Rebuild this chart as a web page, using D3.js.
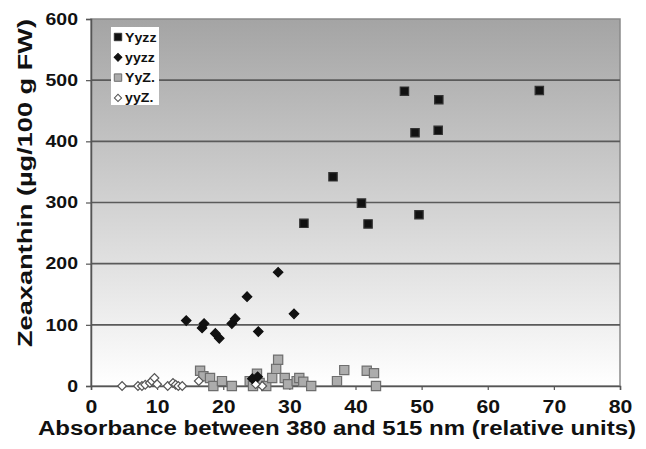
<!DOCTYPE html>
<html>
<head>
<meta charset="utf-8">
<script src="https://cdn.jsdelivr.net/npm/d3@7"></script>
<style>
  body { margin: 0; background: #fff; }
  text { font-family: "Liberation Sans", Arial, sans-serif; font-weight: bold; fill: #111; }
</style>
</head>
<body>
<div id="chart"></div>
<script>
//data
const yyzzBigX = [32.2, 36.6, 40.9, 41.9, 47.4, 49.0, 49.6, 52.5, 52.6, 67.8];
const yyzzBigY = [266, 342, 299, 265, 482, 414, 280, 418, 468, 483];

const yyzzX = [14.4, 16.8, 17.1, 18.8, 19.4, 21.3, 21.8, 23.6, 25.3, 28.3, 30.7, 24.4, 25.2];
const yyzzY = [107, 95, 102, 86, 78, 102, 110, 146, 89, 186, 118, 12, 15];

const yyZX = [16.5, 17, 18, 18.5, 19.8, 21.3, 24, 24.5, 25.1, 25.5, 26.5, 27.4, 28, 28.3, 29.3, 29.8, 31.1, 31.5, 32.1, 33.3, 37.2, 38.3, 41.7, 42.8, 43.1];
const yyZY = [25, 16, 13, 0, 8, 0, 8, 0, 20, 5, 0, 13, 28, 43, 13, 3, 8, 13, 7, 0, 8, 26, 25, 21, 0];

const yyZsmallX = [4.7, 7.1, 7.7, 8.2, 8.9, 9.2, 9.6, 10.0, 11.6, 12.4, 12.8, 13.2, 13.8, 16.3, 25.9, 24.9];
const yyZsmallY = [0, 0, 0, 2, 5, 8, 13, 3, 0, 5, 2, 0, 0, 8, 0, 3];

const seriesNames = ["Yyzz", "yyzz", "YyZ.", "yyZ."];
const xTicks = [0, 10, 20, 30, 40, 50, 60, 70, 80];
const yTicks = [0, 100, 200, 300, 400, 500, 600];

const w = 646;
const h = 449;
const m = { left: 91, right: 26, top: 19, bottom: 63 };

const svg = d3.select("#chart").append("svg")
      .attr("width", w)
      .attr("height", h);

const x = d3.scaleLinear().domain([0, 80]).range([m.left, w - m.right]);
const y = d3.scaleLinear().domain([0, 600]).range([h - m.bottom, m.top]);

//background gradient
const grad = svg.append("defs").append("linearGradient")
      .attr("id", "bg")
      .attr("x1", 0).attr("y1", 0).attr("x2", 0).attr("y2", 1);
grad.append("stop").attr("offset", "0%").attr("stop-color", "#a4a4a4");
grad.append("stop").attr("offset", "100%").attr("stop-color", "#ffffff");

svg.append("rect")
      .attr("x", x(0))
      .attr("y", y(600))
      .attr("width", x(80) - x(0))
      .attr("height", y(0) - y(600))
      .attr("fill", "url(#bg)")
      .attr("stroke", "#8a8a8a")
      .attr("stroke-width", 1.5);

//gridlines
svg.selectAll(".grid")
      .data(yTicks.filter(d => d > 0 && d < 600))
      .enter()
      .append("line")
      .attr("x1", x(0))
      .attr("x2", x(80))
      .attr("y1", d => y(d))
      .attr("y2", d => y(d))
      .style("stroke", "#5a5a5a")
      .style("stroke-width", 1.6);

//axes
const xAxis = svg.append("g")
      .attr("transform", `translate(0,${y(0)})`)
      .call(d3.axisBottom(x).tickValues(xTicks).tickSize(4).tickPadding(10));
const yAxis = svg.append("g")
      .attr("transform", `translate(${x(0)},0)`)
      .call(d3.axisLeft(y).tickValues(yTicks).tickSize(5).tickPadding(8));

[xAxis, yAxis].forEach(a => {
      a.selectAll(".domain").style("stroke", "#555").style("stroke-width", 1.5);
      a.selectAll(".tick line").style("stroke", "#555").style("stroke-width", 1.2);
      a.selectAll("text").style("font-family", null).attr("fill", "#111");
});
xAxis.selectAll("text").style("font-size", "18px");
yAxis.selectAll("text").style("font-size", "16.5px");

//markers, diamonds are squares turned 45 degrees
const sq = d3.symbol().type(d3.symbolSquare);

function drawSeries(xs, ys, size, rot, fill, stroke) {
      svg.append("g").selectAll("path")
            .data(xs.map((d, i) => [d, ys[i]]))
            .enter()
            .append("path")
            .attr("d", sq.size(size)())
            .attr("transform", d => `translate(${x(d[0])},${y(d[1])}) rotate(${rot})`)
            .attr("fill", fill)
            .attr("stroke", stroke)
            .attr("stroke-width", 1.2);
}

drawSeries(yyZX, yyZY, 85, 0, "#acacac", "#6e6e6e");
drawSeries(yyZsmallX, yyZsmallY, 38, 45, "#ffffff", "#555");
drawSeries(yyzzX, yyzzY, 45, 45, "#111", "#111");
drawSeries(yyzzBigX, yyzzBigY, 70, 0, "#111", "#333");

//legend
const legend = svg.append("g");
legend.append("rect")
      .attr("x", 111).attr("y", 27)
      .attr("width", 48).attr("height", 78)
      .attr("fill", "#fff");

const legendStyle = [
      { size: 55, rot: 0, fill: "#111", stroke: "#333" },
      { size: 30, rot: 45, fill: "#111", stroke: "#111" },
      { size: 55, rot: 0, fill: "#acacac", stroke: "#6e6e6e" },
      { size: 26, rot: 45, fill: "#fff", stroke: "#555" }
];

seriesNames.forEach((name, i) => {
      const ly = 37 + i * 20.3;
      const s = legendStyle[i];
      legend.append("path")
            .attr("d", sq.size(s.size)())
            .attr("transform", `translate(118,${ly}) rotate(${s.rot})`)
            .attr("fill", s.fill)
            .attr("stroke", s.stroke)
            .attr("stroke-width", 1);
      legend.append("text")
            .attr("class", "legtext")
            .attr("x", 125)
            .attr("y", ly + 4.5)
            .style("font-size", "12px")
            .text(name);
});

//axis titles
svg.append("text")
      .attr("x", 337)
      .attr("y", 435)
      .attr("text-anchor", "middle")
      .style("font-size", "20px")
      .attr("textLength", 598)
      .attr("lengthAdjust", "spacingAndGlyphs")
      .text("Absorbance between 380 and 515 nm (relative units)");

svg.append("text")
      .attr("transform", "translate(32,183) rotate(-90)")
      .attr("text-anchor", "middle")
      .style("font-size", "21px")
      .attr("textLength", 328)
      .attr("lengthAdjust", "spacingAndGlyphs")
      .text("Zeaxanthin (µg/100 g FW)");

//the original lettering is wider than Arial, stretch it a bit
svg.selectAll(".tick text, .legtext").each(function () {
      const len = this.getComputedTextLength();
      d3.select(this)
            .attr("textLength", len * 1.18)
            .attr("lengthAdjust", "spacingAndGlyphs");
});
</script>
</body>
</html>
